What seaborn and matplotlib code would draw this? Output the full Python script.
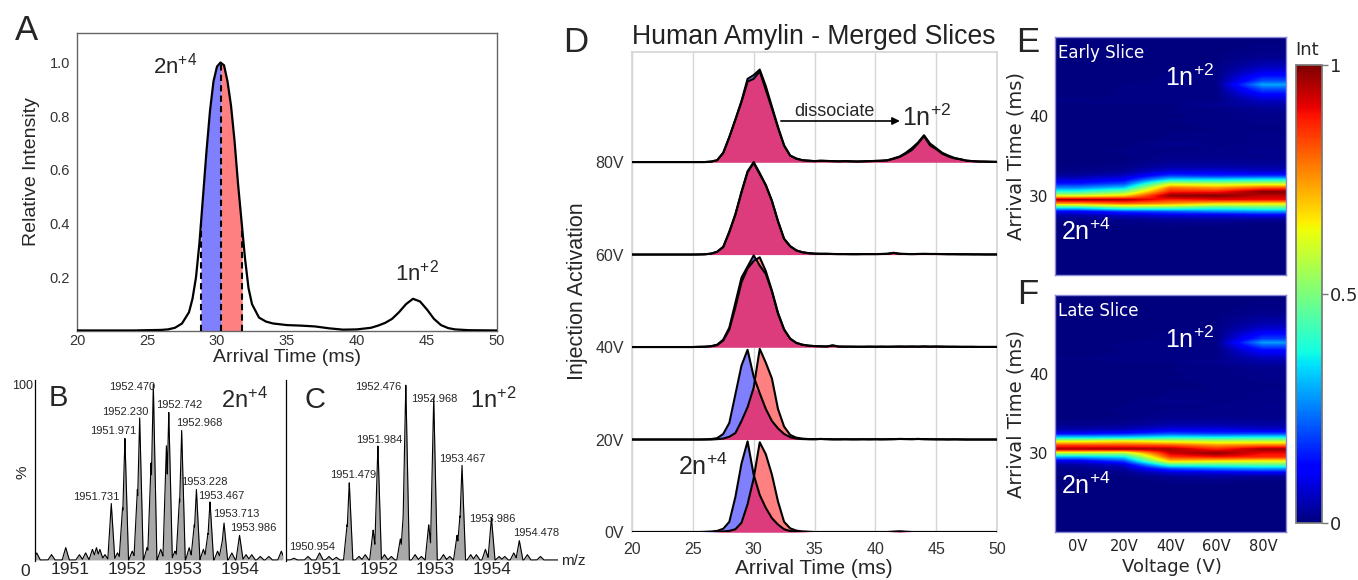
import numpy as np
import matplotlib
matplotlib.use("Agg")
import matplotlib.pyplot as plt
import seaborn as sns

# ------------------------------------------------------------------ data
# Panel A : arrival time distribution (relative intensity)
a_time = [20, 22, 24, 25, 26, 26.5, 27, 27.5, 28, 28.25, 28.5, 28.75, 29, 29.25,
          29.5, 29.75, 30, 30.25, 30.5, 30.75, 31, 31.25, 31.5, 31.75, 32, 32.25,
          32.5, 33, 33.5, 34, 35, 36, 37, 38, 39, 40, 41, 41.5, 42, 42.5, 43, 43.5,
          44, 44.5, 45, 45.5, 46, 46.5, 47, 48, 50]
a_int = [0.002, 0.002, 0.002, 0.003, 0.004, 0.006, 0.012, 0.028, 0.07, 0.12, 0.2,
         0.33, 0.5, 0.67, 0.82, 0.93, 0.985, 1.0, 0.99, 0.93, 0.84, 0.71, 0.55,
         0.41, 0.27, 0.16, 0.1, 0.05, 0.035, 0.028, 0.022, 0.02, 0.017, 0.01,
         0.005, 0.006, 0.012, 0.02, 0.03, 0.045, 0.07, 0.1, 0.12, 0.11, 0.08,
         0.045, 0.022, 0.011, 0.006, 0.003, 0.002]
early_window = [28.85, 30.3]
late_window = [30.3, 31.8]

# Panel B : mass spectrum of 2n+4 (m/z, %)
b_mz = [1950.42, 1950.68, 1950.93, 1951.17, 1951.28, 1951.40, 1951.47, 1951.53,
        1951.62, 1951.731, 1951.84, 1951.93, 1951.971, 1952.10, 1952.19, 1952.230,
        1952.36, 1952.43, 1952.470, 1952.60, 1952.70, 1952.742, 1952.85, 1952.93,
        1952.968, 1953.10, 1953.19, 1953.228, 1953.35, 1953.43, 1953.467, 1953.60,
        1953.68, 1953.713, 1953.85, 1953.986, 1954.10, 1954.20, 1954.35, 1954.50,
        1954.72]
b_int = [4, 3, 7, 3, 4, 6, 7, 6, 3, 32, 4, 30, 69, 5, 40, 81, 7, 55, 100, 6, 65,
         84, 5, 35, 74, 7, 20, 40, 6, 15, 33, 5, 10, 21, 4, 14, 3, 3, 2, 2, 5]
b_labels = ['1951.731', '1951.971', '1952.230', '1952.470', '1952.742',
            '1952.968', '1953.228', '1953.467', '1953.713', '1953.986']
b_label_x = [1951.47, 1951.76, 1951.97, 1952.09, 1952.92, 1953.27, 1953.36,
             1953.66, 1953.93, 1954.23]
b_label_y = [35.5, 73, 84, 98, 88, 77.5, 44, 36, 26, 18.3]

# Panel C : mass spectrum of 1n+2 (m/z, %)
c_mz = [1950.50, 1950.75, 1950.954, 1951.12, 1951.25, 1951.44, 1951.479, 1951.65,
        1951.76, 1951.90, 1951.984, 1952.10, 1952.22, 1952.38, 1952.44, 1952.476,
        1952.64, 1952.75, 1952.88, 1952.968, 1953.14, 1953.25, 1953.38, 1953.43,
        1953.467, 1953.62, 1953.72, 1953.88, 1953.986, 1954.12, 1954.22, 1954.38,
        1954.478, 1954.62, 1954.85]
c_int = [1, 2, 4, 2, 1.5, 20, 44, 2, 3, 17, 65, 3, 2, 12, 30, 100, 3, 2, 20, 93,
         3, 2, 14, 25, 54, 3, 3, 6, 24, 2, 2, 4, 11, 3, 2]
c_labels = ['1950.954', '1951.479', '1951.984', '1952.476', '1952.968',
            '1953.467', '1953.986', '1954.478']
c_label_x = [1950.815, 1951.54, 1952.01, 1951.99, 1952.98, 1953.47, 1954.0, 1954.78]
c_label_y = [7.3, 48, 68, 98, 91, 57, 23, 15]

# Panel D / E / F : early (blue) and late (red) slice arrival time distributions
voltages = [0, 20, 40, 60, 80]
volt_labels = ['0V', '20V', '40V', '60V', '80V']
d_time = [20.0, 20.5, 21.0, 21.5, 22.0, 22.5, 23.0, 23.5, 24.0, 24.5,
          25.0, 25.5, 26.0, 26.5, 27.0, 27.5, 28.0, 28.5, 29.0, 29.5,
          30.0, 30.5, 31.0, 31.5, 32.0, 32.5, 33.0, 33.5, 34.0, 34.5,
          35.0, 35.5, 36.0, 36.5, 37.0, 37.5, 38.0, 38.5, 39.0, 39.5,
          40.0, 40.5, 41.0, 41.5, 42.0, 42.5, 43.0, 43.5, 44.0, 44.5,
          45.0, 45.5, 46.0, 46.5, 47.0, 47.5, 48.0, 48.5, 49.0, 49.5,
          50.0]
early_0V = [0, 0, 0, 0, 0, 0, 0, 0, 0, 0,
            0, 0, 0.002, 0.005, 0.012, 0.035, 0.11, 0.38, 0.74, 0.98,
            0.62, 0.40, 0.26, 0.15, 0.08, 0.03, 0.01, 0.005, 0.002, 0,
            0, 0, 0, 0, 0, 0, 0, 0, 0, 0,
            0, 0, 0, 0.003, 0.006, 0.002, 0, 0, 0, 0,
            0, 0, 0, 0, 0, 0, 0, 0, 0, 0,
            0]
late_0V = [0, 0, 0, 0, 0, 0, 0, 0, 0, 0,
           0, 0, 0, 0, 0.003, 0.006, 0.012, 0.03, 0.1, 0.3,
           0.58, 0.97, 0.84, 0.62, 0.33, 0.11, 0.04, 0.015, 0.006, 0.003,
           0, 0, 0, 0, 0, 0, 0, 0, 0, 0,
           0, 0, 0, 0.002, 0.005, 0.002, 0, 0, 0, 0,
           0, 0, 0, 0, 0, 0, 0, 0, 0, 0,
           0]
early_20V = [0, 0, 0, 0, 0, 0, 0, 0, 0, 0,
             0, 0, 0.002, 0.005, 0.015, 0.06, 0.18, 0.49, 0.8, 0.97,
             0.68, 0.5, 0.33, 0.2, 0.12, 0.06, 0.025, 0.01, 0.005, 0.003,
             0.003, 0.006, 0.004, 0.002, 0.002, 0.003, 0.002, 0.002, 0.003, 0.002,
             0.003, 0.002, 0.003, 0.004, 0.006, 0.005, 0.004, 0.006, 0.004, 0.003,
             0.002, 0.002, 0.001, 0.002, 0.001, 0, 0, 0, 0, 0,
             0]
late_20V = [0, 0, 0, 0, 0, 0, 0, 0, 0, 0,
            0, 0, 0, 0, 0.004, 0.01, 0.03, 0.07, 0.2, 0.35,
            0.56, 0.98, 0.83, 0.66, 0.33, 0.14, 0.05, 0.02, 0.01, 0.005,
            0.004, 0.006, 0.004, 0.002, 0.002, 0.003, 0.002, 0.002, 0.003, 0.002,
            0.003, 0.002, 0.003, 0.004, 0.006, 0.005, 0.004, 0.006, 0.004, 0.003,
            0.002, 0.002, 0.001, 0.002, 0.001, 0, 0, 0, 0, 0,
            0]
early_40V = [0, 0, 0, 0, 0, 0, 0, 0, 0, 0,
             0, 0.002, 0.004, 0.01, 0.025, 0.08, 0.21, 0.48, 0.75, 0.87,
             0.99, 0.88, 0.79, 0.6, 0.36, 0.19, 0.09, 0.045, 0.025, 0.015,
             0.01, 0.008, 0.006, 0.018, 0.005, 0.004, 0.004, 0.003, 0.003, 0.004,
             0.003, 0.004, 0.003, 0.004, 0.005, 0.004, 0.005, 0.004, 0.006, 0.004,
             0.005, 0.004, 0.003, 0.003, 0.002, 0.002, 0.002, 0.001, 0.001, 0.001,
             0.001]
late_40V = [0, 0, 0, 0, 0, 0, 0, 0, 0, 0,
            0, 0.002, 0.003, 0.008, 0.02, 0.07, 0.19, 0.43, 0.7, 0.85,
            0.93, 0.97, 0.82, 0.61, 0.37, 0.19, 0.09, 0.045, 0.025, 0.015,
            0.01, 0.008, 0.006, 0.016, 0.005, 0.004, 0.004, 0.003, 0.003, 0.004,
            0.003, 0.004, 0.003, 0.004, 0.005, 0.004, 0.005, 0.004, 0.006, 0.004,
            0.005, 0.004, 0.003, 0.003, 0.002, 0.002, 0.002, 0.001, 0.001, 0.001,
            0.001]
early_60V = [0, 0, 0, 0, 0, 0, 0, 0, 0, 0,
             0, 0.001, 0.003, 0.01, 0.03, 0.08, 0.25, 0.43, 0.68, 0.9,
             1.0, 0.88, 0.75, 0.58, 0.36, 0.17, 0.09, 0.045, 0.025, 0.015,
             0.01, 0.008, 0.008, 0.006, 0.005, 0.005, 0.004, 0.004, 0.005, 0.005,
             0.005, 0.006, 0.008, 0.018, 0.008, 0.006, 0.005, 0.006, 0.007, 0.006,
             0.006, 0.005, 0.004, 0.004, 0.003, 0.003, 0.002, 0.002, 0.001, 0.001,
             0.001]
late_60V = [0, 0, 0, 0, 0, 0, 0, 0, 0, 0,
            0, 0.001, 0.003, 0.01, 0.03, 0.085, 0.24, 0.44, 0.67, 0.89,
            0.99, 0.87, 0.75, 0.58, 0.36, 0.17, 0.09, 0.045, 0.025, 0.015,
            0.01, 0.008, 0.008, 0.006, 0.005, 0.005, 0.004, 0.004, 0.005, 0.005,
            0.005, 0.006, 0.008, 0.018, 0.008, 0.006, 0.005, 0.006, 0.007, 0.006,
            0.006, 0.005, 0.004, 0.004, 0.003, 0.003, 0.002, 0.002, 0.001, 0.001,
            0.001]
early_80V = [0, 0, 0, 0, 0, 0, 0, 0, 0, 0,
             0, 0, 0, 0.005, 0.02, 0.1, 0.27, 0.46, 0.66, 0.9,
             0.94, 1.0, 0.82, 0.6, 0.38, 0.18, 0.07, 0.04, 0.02, 0.015,
             0.01, 0.015, 0.012, 0.01, 0.008, 0.01, 0.008, 0.006, 0.008, 0.01,
             0.012, 0.015, 0.02, 0.04, 0.06, 0.1, 0.15, 0.21, 0.29, 0.2,
             0.15, 0.1, 0.07, 0.045, 0.03, 0.015, 0.01, 0.006, 0.005, 0.003,
             0.002]
late_80V = [0, 0, 0, 0, 0, 0, 0, 0, 0, 0,
            0, 0, 0, 0.005, 0.02, 0.1, 0.27, 0.46, 0.65, 0.87,
            0.9, 0.98, 0.78, 0.58, 0.37, 0.18, 0.07, 0.035, 0.02, 0.015,
            0.01, 0.013, 0.012, 0.01, 0.008, 0.01, 0.008, 0.006, 0.008, 0.01,
            0.012, 0.014, 0.018, 0.035, 0.055, 0.09, 0.13, 0.2, 0.28, 0.18,
            0.14, 0.09, 0.06, 0.04, 0.03, 0.015, 0.01, 0.006, 0.005, 0.003,
            0.002]
early_slices = [early_0V, early_20V, early_40V, early_60V, early_80V]
late_slices = [late_0V, late_20V, late_40V, late_60V, late_80V]

# ------------------------------------------------------------------ style
sns.set_theme(style="white")
plt.rcParams['font.family'] = ['Liberation Sans', 'DejaVu Sans']
plt.rcParams['mathtext.fontset'] = 'custom'
plt.rcParams['mathtext.rm'] = 'Liberation Sans'
plt.rcParams['mathtext.default'] = 'regular'

BLUE = '#8080ff'
RED = '#ff8080'
MIX = '#dc3c7c'
W, H = 1358, 580
fig = plt.figure(figsize=(W / 100, H / 100), dpi=100)


def add_ax(l, t, r, b):
    return fig.add_axes([l / W, 1 - b / H, (r - l) / W, (b - t) / H])


def ftext(x, y, s, **kw):
    kw.setdefault('ha', 'center')
    kw.setdefault('va', 'center')
    return fig.text(x / W, 1 - y / H, s, **kw)


def stick_profile(grid, mz, inten, half_width=0.062):
    prof = np.zeros_like(grid)
    for m, h in zip(mz, inten):
        prof = np.maximum(prof, h * np.clip(1 - np.abs(grid - m) / half_width, 0, None))
    return prof


# ------------------------------------------------------------------ panel A
axA = add_ax(77, 33, 497, 331)
sns.lineplot(x=a_time, y=a_int, ax=axA, color='black', lw=1.6,
             estimator=None, sort=False, legend=False, zorder=5)
for (lo, hi), col in [(early_window, BLUE), (late_window, RED)]:
    xs = np.linspace(lo, hi, 80)
    axA.fill_between(xs, 0, np.interp(xs, a_time, a_int), color=col, lw=0, zorder=2)
for xv in [early_window[0], early_window[1], late_window[1]]:
    axA.plot([xv, xv], [0, np.interp(xv, a_time, a_int)], ls=(0, (3, 2)),
             color='black', lw=1.5, zorder=4)
axA.set_xlim(20, 50)
axA.set_ylim(0, 1.11)
axA.set_xticks([20, 25, 30, 35, 40, 45, 50])
axA.set_yticks([0.2, 0.4, 0.6, 0.8, 1.0], labels=['0.2', '0.4', '0.6', '0.8', '1.0'])
axA.tick_params(length=0, labelsize=10.5, pad=5, labelcolor='#333333')
axA.tick_params(axis='x', pad=2)
for s in axA.spines.values():
    s.set_color('#666666')
    s.set_linewidth(1.0)
ftext(32, 172, 'Relative Intensity', fontsize=14, rotation=90)
ftext(287, 358, 'Arrival Time (ms)', fontsize=14)
ftext(26, 31, 'A', fontsize=25)
ftext(153, 66, r'2n$^{+4}$', fontsize=16, ha='left')
ftext(395, 273, r'1n$^{+2}$', fontsize=16, ha='left')

# ------------------------------------------------------------------ panels B, C
specs = [
    (35, 283, (1950.39, 1954.75), b_mz, b_int, b_labels, b_label_x, b_label_y),
    (286, 558, (1950.363, 1955.16), c_mz, c_int, c_labels, c_label_x, c_label_y),
]
for (l, r, xl, mz, inten, labs, lx, ly) in specs:
    ax = add_ax(l, 380, r, 561)
    grid = np.linspace(xl[0], xl[1], 4000)
    prof = stick_profile(grid, mz, inten)
    ax.fill_between(grid, 0, prof, color='#a8a8a8', lw=0)
    sns.lineplot(x=grid, y=prof, ax=ax, color='black', lw=0.8,
                 estimator=None, sort=False, legend=False)
    ax.set_xlim(*xl)
    ax.set_ylim(-0.6, 102)
    for t, x, y in zip(labs, lx, ly):
        ax.text(x, y, t, fontsize=8, ha='center', va='center', clip_on=False)
    ax.set_xticks([1951, 1952, 1953, 1954])
    ax.set_yticks([0, 50, 100], labels=['', '', ''])
    ax.tick_params(axis='x', length=0, labelsize=12.5, pad=1)
    ax.tick_params(axis='y', length=3, width=0.8, direction='in', color='black')
    for k in ['top', 'right', 'bottom']:
        ax.spines[k].set_visible(False)
    ax.spines['left'].set_color('black')
    ax.spines['left'].set_linewidth(0.9)
    ax.set_xlabel('')
    ax.set_ylabel('')
ftext(33, 386, '100', fontsize=9, ha='right')
ftext(25, 571, '0', fontsize=12.5)
ftext(22, 472, '%', fontsize=11, rotation=90)
ftext(58, 398, 'B', fontsize=21)
ftext(315, 400, 'C', fontsize=21)
ftext(244, 400, r'2n$^{+4}$', fontsize=17)
ftext(493, 400, r'1n$^{+2}$', fontsize=17)
ftext(573, 561, 'm/z', fontsize=11)

# ------------------------------------------------------------------ panel D
axD = add_ax(632, 52, 997, 532)
t = np.array(d_time)
for k in reversed(range(len(voltages))):
    e = np.array(early_slices[k])
    lt = np.array(late_slices[k])
    z = 10 + (len(voltages) - k) * 5
    axD.fill_between(t, k, k + e, color=BLUE, lw=0, zorder=z)
    axD.fill_between(t, k, k + lt, color=RED, lw=0, zorder=z + 1)
    axD.fill_between(t, k, k + np.minimum(e, lt), color=MIX, lw=0, zorder=z + 2)
    sns.lineplot(x=t, y=k + e, ax=axD, color='black', lw=1.5, estimator=None,
                 sort=False, legend=False, zorder=z + 3)
    sns.lineplot(x=t, y=k + lt, ax=axD, color='black', lw=1.5, estimator=None,
                 sort=False, legend=False, zorder=z + 3)
axD.set_xlim(20, 50)
axD.set_ylim(0, 5.19)
axD.set_xticks([20, 25, 30, 35, 40, 45, 50])
axD.set_yticks(range(len(voltages)), labels=volt_labels)
axD.grid(axis='x', color='#d6d6d6', lw=1)
axD.set_axisbelow(True)
axD.tick_params(length=0, labelsize=11.5, labelcolor='#333333')
axD.tick_params(axis='x', pad=7)
axD.tick_params(axis='y', pad=6)
for s in axD.spines.values():
    s.set_color('#d6d6d6')
axD.spines['bottom'].set_visible(False)
axD.set_xlabel('')
axD.set_ylabel('')
axD.annotate('', xy=(42.02, 4.444), xytext=(32.24, 4.444),
             arrowprops=dict(arrowstyle='-|>', color='black', lw=1.2,
                             mutation_scale=11, shrinkA=0, shrinkB=0), zorder=40)
axD.text(36.6, 4.55, 'dissociate', fontsize=13, ha='center', va='center', zorder=40)
axD.text(42.2, 4.48, r'1n$^{+2}$', fontsize=18, ha='left', va='center', zorder=40)
axD.text(23.8, 0.71, r'2n$^{+4}$', fontsize=18, ha='left', va='center', zorder=40)
ftext(814, 37, 'Human Amylin - Merged Slices', fontsize=19.2, color='#222222')
ftext(577, 291, 'Injection Activation', fontsize=15.5, rotation=90)
ftext(814, 568, 'Arrival Time (ms)', fontsize=15)
ftext(576, 42, 'D', fontsize=25)

# ------------------------------------------------------------------ panels E, F
DV = 'DejaVu Sans'
extent = (voltages[0] - 10, voltages[-1] + 10, d_time[0] - 0.25, d_time[-1] + 0.25)
panels = [
    (37, 275, early_slices, 'Early Slice', (44.8, 25.5), 'E', 42),
    (295, 532, late_slices, 'Late Slice', (44.3, 25.9), 'F', 295),
]
im = None
for (top, bot, slices, name, (y1, y2), letter, ly) in panels:
    ax = add_ax(1055, top, 1286, bot)
    im = ax.imshow(np.array(slices).T, origin='lower', aspect='auto', cmap='jet',
                   vmin=0, vmax=1, interpolation='bilinear',
                   interpolation_stage='data', extent=extent)
    ax.set_xlim(extent[0], extent[1])
    ax.set_ylim(20, 50)
    ax.set_yticks([30, 40], labels=['30', '40'], fontfamily=DV, fontsize=11)
    if letter == 'F':
        ax.set_xticks(voltages, labels=volt_labels, fontfamily=DV, fontsize=10.5)
    else:
        ax.set_xticks(voltages, labels=['' for _ in voltages])
    ax.tick_params(direction='out', length=3, width=1.2, color='black', pad=2,
                   labelcolor='#222222')
    for s in ax.spines.values():
        s.set_color('#8a8ad6')
        s.set_linewidth(1)
    ax.text(-8.5, 48.0, name, color='white', fontsize=12, fontfamily=DV,
            ha='left', va='center')
    ax.text(37.5, y1, r'1n$^{+2}$', color='white', fontsize=18, ha='left', va='center')
    ax.text(-7.5, y2, r'2n$^{+4}$', color='white', fontsize=18, ha='left', va='center')
    ftext(1016, (top + bot) / 2, 'Arrival Time (ms)', fontsize=14, fontfamily=DV,
          rotation=90)
    ftext(1028, ly, letter, fontsize=25)
ftext(1172, 567, 'Voltage (V)', fontsize=13, fontfamily=DV)

cax = add_ax(1296, 65, 1322, 523)
cb = fig.colorbar(im, cax=cax, ticks=[0, 0.5, 1])
cb.ax.set_yticklabels(['0', '0.5', '1'], fontfamily=DV, fontsize=13)
cb.outline.set_edgecolor('#777777')
cax.tick_params(length=4, width=1, color='#777777', pad=2)
ftext(1307, 50, 'Int', fontsize=13, fontfamily=DV)

fig.savefig('out.png', dpi=100)
